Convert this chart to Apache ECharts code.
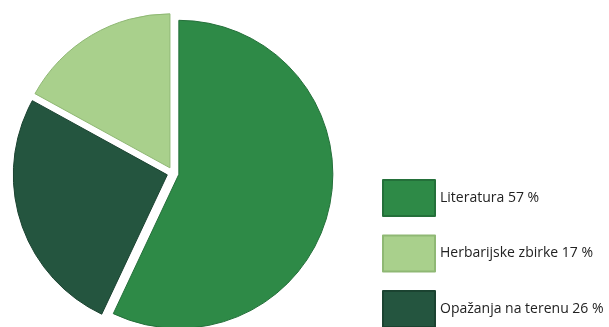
<!DOCTYPE html>
<html>
<head>
<meta charset="utf-8">
<script src="https://cdn.jsdelivr.net/npm/echarts@6/dist/echarts.min.js"></script>
<style>
  html, body { margin: 0; padding: 0; background: #ffffff; }
  #chart { width: 609px; height: 327px; }
</style>
</head>
<body>
<div id="chart"></div>
<script>
// Share of data sources (percent), in clockwise slice order from 12 o'clock
const categories = ['Literatura', 'Opažanja na terenu', 'Herbarijske zbirke'];
const values = [57, 26, 17];
const colors = ['#2e8a47', '#24553f', '#a9d08c'];
const borders = ['#24703a', '#1b4331', '#8fb874'];
// Legend lists the sources in this order
const legendOrder = ['Literatura', 'Herbarijske zbirke', 'Opažanja na terenu'];

const valueOf = {};
categories.forEach((c, i) => { valueOf[c] = values[i]; });

const chart = echarts.init(document.getElementById('chart'), null, { renderer: 'canvas' });
chart.setOption({
  animation: false,
  backgroundColor: '#ffffff',
  legend: {
    data: legendOrder,
    orient: 'vertical',
    left: 382,
    top: 179,
    width: 227,
    height: 200,
    padding: 0,
    itemWidth: 52,
    itemHeight: 36,
    itemGap: 17.5,
    icon: 'rect',
    selectedMode: false,
    formatter: name => name + ' ' + valueOf[name] + ' %',
    textStyle: {
      fontFamily: 'Open Sans',
      fontSize: 14,
      color: '#222222'
    }
  },
  series: [{
    type: 'pie',
    center: [173, 173],
    radius: 154,
    startAngle: 90,
    clockwise: true,
    selectedMode: 'multiple',
    selectedOffset: 6,
    label: { show: false },
    labelLine: { show: false },
    emphasis: { disabled: true },
    data: categories.map((c, i) => ({
      name: c,
      value: values[i],
      selected: true,
      itemStyle: { color: colors[i], borderColor: borders[i], borderWidth: 1 }
    }))
  }]
});
</script>
</body>
</html>
